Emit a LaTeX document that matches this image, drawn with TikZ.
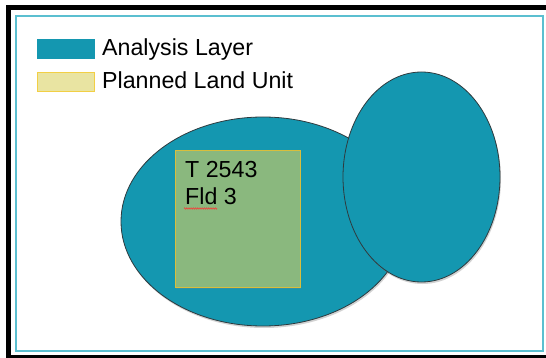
\documentclass[tikz,border=0pt]{standalone}
\usepackage{fontspec}
\setmainfont{Liberation Sans}
\usetikzlibrary{shapes.geometric,shadows,decorations.pathmorphing}
\definecolor{teal1}{HTML}{1497B0}
\definecolor{edge1}{HTML}{2E3A3E}
\definecolor{frame1}{HTML}{5BBFD0}
\definecolor{green1}{HTML}{8AB87E}
\definecolor{gold1}{HTML}{D9BE3C}
\definecolor{legy}{HTML}{E9E4A2}
\definecolor{legyb}{HTML}{F2CF45}
\tikzset{
  layer/.style={ellipse, fill=teal1, draw=edge1, line width=0.8pt, inner sep=0pt,
    drop shadow={shadow xshift=1pt, shadow yshift=-2pt, opacity=0.35}},
  lab/.style={font=\fontsize{23.2pt}{27pt}\selectfont, anchor=base west, inner sep=0pt},
}
\begin{document}
\begin{tikzpicture}[x=1pt,y=-1pt]
\useasboundingbox (0,0) rectangle (546,358);
\fill[white] (0,0) rectangle (546,358);
% outer black frame
\fill[black] (6,5) rectangle (546,10);
\fill[black] (6,5) rectangle (11,358);
\fill[black] (6,355) rectangle (546,358);
% inner cyan frame
\draw[frame1, line width=1.5pt] (16,16) rectangle (543,351);
% legend
\node[draw=teal1, fill=teal1, minimum width=57pt, minimum height=19pt, inner sep=0pt, anchor=north west,
  drop shadow={shadow xshift=0.8pt, shadow yshift=-1.2pt, opacity=0.3}] (lk1) at (37,39) {};
\node[draw=legyb, fill=legy, line width=0.8pt, minimum width=57pt, minimum height=19pt, inner sep=0pt, anchor=north west] (lk2) at (37,72) {};
\node[lab] (lt1) at (102,56) {Analysis Layer};
\node[lab] (lt2) at (102,89) {Planned Land Unit};
% ellipses
\node[layer, minimum width=284pt, minimum height=209pt] (big) at (263,221.5) {};
\node[layer, minimum width=157pt, minimum height=210pt] (small) at (421.5,177) {};
% planned land unit
\node[draw=gold1, fill=green1, line width=0.7pt, minimum width=125pt, minimum height=137pt, inner sep=0pt, anchor=north west,
  drop shadow={shadow xshift=0.8pt, shadow yshift=-1.2pt, opacity=0.3}] (plu) at (175,150) {};
\node[lab] (t1) at (185,178) {T 2543};
\node[lab] (t2) at (185,205) {Fld 3};
\coordinate (sq1) at (184,208.5);
\coordinate (sq2) at (217,208.5);
\draw[red!80!white, line width=0.5pt, decorate, decoration={zigzag, amplitude=0.8pt, segment length=2.2pt}] (sq1) -- (sq2);
\end{tikzpicture}
\end{document}
